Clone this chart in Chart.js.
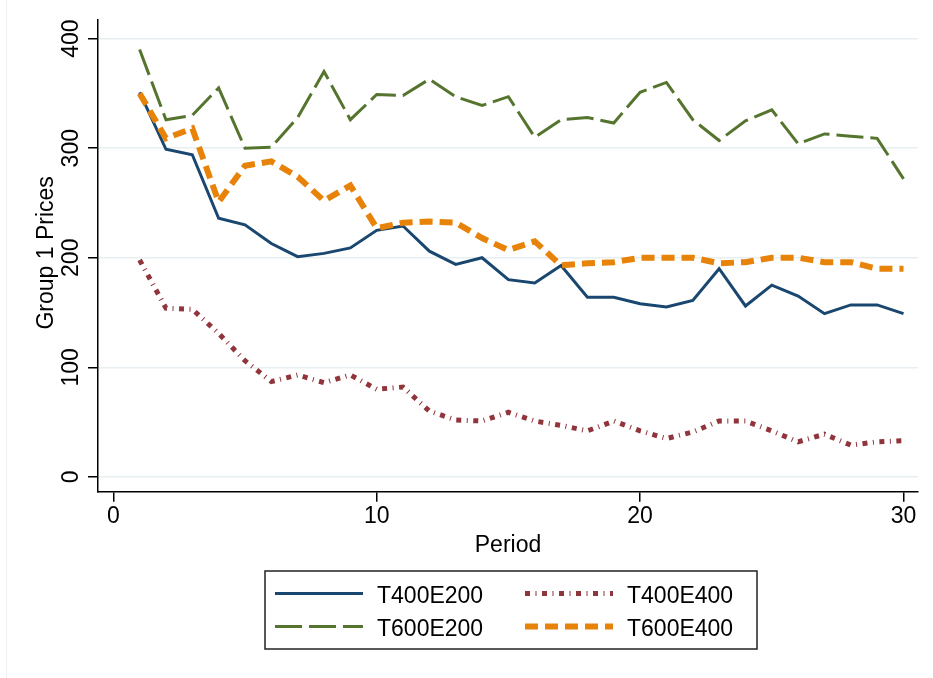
<!DOCTYPE html>
<html>
<head>
<meta charset="utf-8">
<script src="https://cdn.jsdelivr.net/npm/chart.js@4"></script>
<style>
  html, body { margin: 0; padding: 0; background: #fff; }
  #wrap { width: 933px; height: 678px; }
</style>
</head>
<body>
<div id="wrap"><canvas id="chart" width="933" height="678"></canvas></div>
<script>
// --- Data ---
const periods = [1, 2, 3, 4, 5, 6, 7, 8, 9, 10, 11, 12, 13, 14, 15, 16, 17, 18, 19, 20, 21, 22, 23, 24, 25, 26, 27, 28, 29, 30];
const t400e200 = [351, 299, 294, 236, 230, 213, 201, 204, 209, 225, 229, 206, 194, 200, 180, 177, 193, 164, 164, 158, 155, 161, 190, 156, 175, 165, 149, 157, 157, 149];
const t400e400 = [198, 154, 153, 131, 106, 87, 93, 86, 93, 80, 82, 60, 52, 51, 59, 51, 47, 42, 51, 42, 35, 41, 51, 51, 42, 32, 39, 29, 32, 33];
const t600e200 = [390, 326, 330, 355, 300, 301, 328, 370, 326, 349, 348, 363, 347, 339, 347, 310, 326, 328, 323, 351, 360, 326, 307, 325, 335, 304, 313, 311, 309, 272];
const t600e400 = [350, 309, 318, 251, 284, 288, 274, 252, 266, 227, 232, 233, 232, 218, 207, 215, 193, 195, 196, 200, 200, 200, 195, 196, 200, 200, 196, 196, 190, 190];
const xTicks = [0, 10, 20, 30];
const yTicks = [0, 100, 200, 300, 400];

const FONT = "'Liberation Sans', Arial, Helvetica, sans-serif";
Chart.defaults.font.family = FONT;
Chart.defaults.font.size = 23;
Chart.defaults.color = '#000';

const toPoints = vals => vals.map((v, i) => ({ x: periods[i], y: v }));

// legend slots: [column, row]
const legendSlots = { T400E200: [0, 0], T400E400: [1, 0], T600E200: [0, 1], T600E400: [1, 1] };

const stataExtras = {
    id: 'stataExtras',
    afterDraw(chart) {
        const { ctx, chartArea } = chart;
        const y = chart.scales.y;
        ctx.save();

        // faint frame line on the left edge of the graph region
        ctx.strokeStyle = '#eef0f2';
        ctx.lineWidth = 1;
        ctx.beginPath();
        ctx.moveTo(6.5, 0);
        ctx.lineTo(6.5, 678);
        ctx.stroke();

        ctx.fillStyle = '#000';
        ctx.font = `23px ${FONT}`;
        ctx.textAlign = 'center';
        ctx.textBaseline = 'alphabetic';

        // rotated y tick labels
        yTicks.forEach(v => {
            ctx.save();
            ctx.translate(78, y.getPixelForValue(v));
            ctx.rotate(-Math.PI / 2);
            ctx.fillText(String(v), 0, 0);
            ctx.restore();
        });

        // y title
        ctx.save();
        ctx.translate(53, (chartArea.top + chartArea.bottom) / 2 - 3);
        ctx.rotate(-Math.PI / 2);
        ctx.fillText('Group 1 Prices', 0, 0);
        ctx.restore();

        // legend box
        ctx.lineWidth = 1.5;
        ctx.strokeStyle = '#222';
        ctx.strokeRect(265, 571, 492, 78);

        const colX = [275, 525];
        const rowY = [593.5, 626.5];
        ctx.textAlign = 'left';
        chart.data.datasets.forEach(ds => {
            const [c, r] = legendSlots[ds.label];
            const x0 = colX[c], yy = rowY[r];
            ctx.save();
            ctx.strokeStyle = ds.borderColor;
            ctx.lineWidth = ds.borderWidth;
            ctx.lineCap = 'butt';
            ctx.setLineDash(ds.borderDash || []);
            ctx.beginPath();
            ctx.moveTo(x0, yy);
            ctx.lineTo(x0 + 88, yy);
            ctx.stroke();
            ctx.restore();
            ctx.fillText(ds.label, x0 + 102, yy + 9.5);
        });
        ctx.restore();
    }
};

new Chart(document.getElementById('chart'), {
    type: 'line',
    data: {
        datasets: [
            { label: 'T400E200', data: toPoints(t400e200), borderColor: '#1a476f', borderWidth: 3, order: 3 },
            { label: 'T400E400', data: toPoints(t400e400), borderColor: '#90353b', borderWidth: 5, borderDash: [5, 5.5, 1, 5.5], order: 2 },
            { label: 'T600E200', data: toPoints(t600e200), borderColor: '#55752f', borderWidth: 3, borderDash: [27, 7], order: 1 },
            { label: 'T600E400', data: toPoints(t600e400), borderColor: '#e8830a', borderWidth: 6, borderDash: [13, 7], order: 0 }
        ]
    },
    options: {
        responsive: false,
        animation: false,
        layout: { padding: { left: 88, right: 15, top: 20, bottom: 119 } },
        plugins: { legend: { display: false }, tooltip: { enabled: false } },
        elements: {
            point: { radius: 0 },
            line: { tension: 0, fill: false, borderCapStyle: 'butt' }
        },
        scales: {
            x: {
                type: 'linear',
                min: -0.58,
                max: 30.55,
                afterBuildTicks: s => { s.ticks = xTicks.map(v => ({ value: v })); },
                grid: { drawOnChartArea: false, tickLength: 10, tickColor: '#000', lineWidth: 1.5 },
                border: { color: '#000', width: 1.5 },
                ticks: { padding: 1, maxRotation: 0, color: '#000' },
                title: { display: true, text: 'Period', padding: { top: 0, bottom: 0 }, color: '#000' }
            },
            y: {
                type: 'linear',
                min: -13.6,
                max: 417,
                afterBuildTicks: s => { s.ticks = yTicks.map(v => ({ value: v })); },
                grid: { color: '#e8eff2', lineWidth: 1.5, tickLength: 10, tickColor: '#000' },
                border: { color: '#000', width: 1.5 },
                ticks: { display: false }
            }
        }
    },
    plugins: [stataExtras]
});
</script>
</body>
</html>
